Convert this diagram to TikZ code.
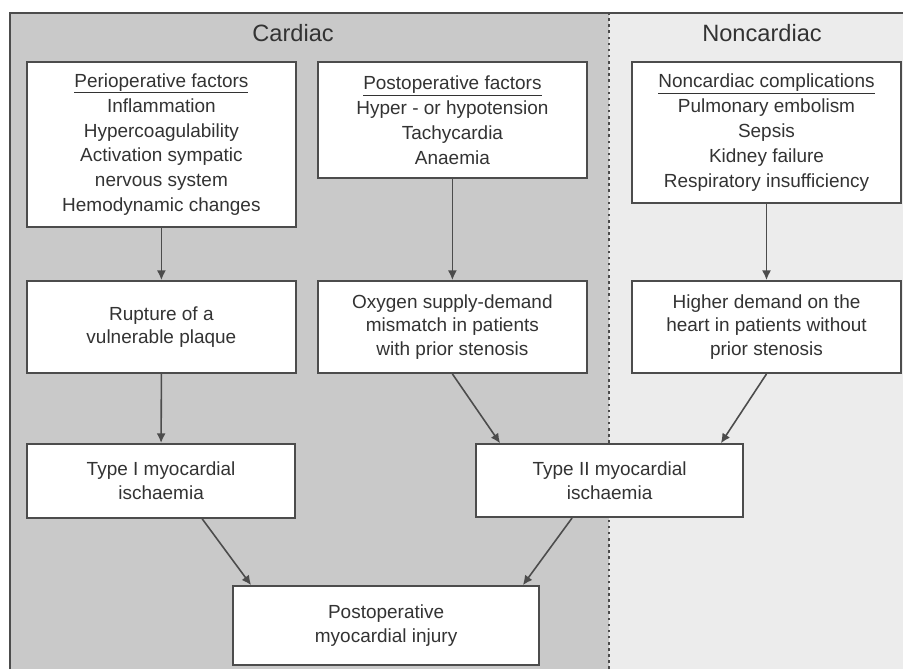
\documentclass[tikz,border=0pt]{standalone}
\usepackage{fontspec}
\setmainfont{Liberation Sans}
\usepackage{tikz}
\usetikzlibrary{arrows.meta, positioning, calc}
\definecolor{cardiacbg}{rgb}{0.79,0.79,0.79}
\definecolor{noncardiacbg}{rgb}{0.925,0.925,0.925}
\definecolor{linegray}{rgb}{0.3,0.3,0.3}
\definecolor{textgray}{rgb}{0.2,0.2,0.2}

\begin{document}
\begin{tikzpicture}[
    box/.style={draw=linegray, fill=white, line width=1.7pt, align=center, inner sep=0pt, text=textgray, font=\fontsize{18}{22.4}\selectfont},
    arr/.style={draw=linegray, line width=1.5pt, -{Latex[length=0.32cm, width=0.3cm]}},
    title/.style={text=textgray, font=\fontsize{22.4}{26}\selectfont}
  ]
      \useasboundingbox (0,0) rectangle (30.1,22.3);
      \fill [white] (0,0) rectangle (30.1,22.3);
      \fill [cardiacbg] (0.33,0) rectangle (20.3,21.87);
      \fill [noncardiacbg] (20.3,0) rectangle (30.1,21.87);
      \draw [linegray, line width=1.5pt] (0.33,0) -- (0.33,21.87) -- (30.1,21.87);
      \draw [linegray, line width=1.8pt, dash pattern=on 2.4pt off 3.4pt] (20.3,0) -- (20.3,21.87);

      \node [title] (CA) at (9.77, 21.2) {Cardiac};
      \node [title] (NCA) at (25.4, 21.2) {Noncardiac};

      \node [box, minimum width=8.97cm, minimum height=5.5cm, font=\fontsize{18}{23.7}\selectfont] (PF) at (5.38, 17.48) {\underline{Perioperative factors}\\Inflammation\\Hypercoagulability\\Activation sympatic\\nervous system\\Hemodynamic changes};
      \node [box, minimum width=8.98cm, minimum height=3.87cm, font=\fontsize{18}{23.7}\selectfont] (PO) at (15.08, 18.3) {\underline{Postoperative factors}\\Hyper - or hypotension\\Tachycardia\\Anaemia};
      \node [box, minimum width=8.97cm, minimum height=4.7cm, font=\fontsize{18}{23.7}\selectfont] (NC) at (25.55, 17.88) {\underline{Noncardiac complications}\\Pulmonary embolism\\Sepsis\\Kidney failure\\Respiratory insufficiency};

      \node [box, minimum width=8.97cm, minimum height=3.07cm] (RP) at (5.38, 11.4) {Rupture of a\\vulnerable plaque};
      \node [box, minimum width=8.98cm, minimum height=3.07cm] (OX) at (15.08, 11.4) {Oxygen supply-demand\\mismatch in patients\\with prior stenosis};
      \node [box, minimum width=8.97cm, minimum height=3.07cm] (HD) at (25.55, 11.4) {Higher demand on the\\heart in patients without\\prior stenosis};

      \node [box, minimum width=8.93cm, minimum height=2.47cm] (T1) at (5.37, 6.27) {Type I myocardial\\ischaemia};
      \node [box, minimum width=8.9cm, minimum height=2.43cm] (T2) at (20.32, 6.28) {Type II myocardial\\ischaemia};

      \node [box, minimum width=10.2cm, minimum height=2.63cm] (PI) at (12.87, 1.45) {Postoperative\\myocardial injury};

      \draw [arr] (PF) -- (RP);
      \draw [arr] (PO) -- (OX);
      \draw [arr] (NC) -- (HD);
      \draw [arr] (RP.south) -- (T1.north);
      \draw [arr] (OX.south) -- ([xshift=0.83cm]T2.north west);
      \draw [arr] (HD.south) -- ([xshift=-0.77cm]T2.north east);
      \draw [arr] ([xshift=1.37cm]T1.south) -- ([xshift=0.63cm]PI.north west);
      \draw [arr] ([xshift=-1.25cm]T2.south) -- ([xshift=-0.57cm]PI.north east);
    \end{tikzpicture}
\end{document}
